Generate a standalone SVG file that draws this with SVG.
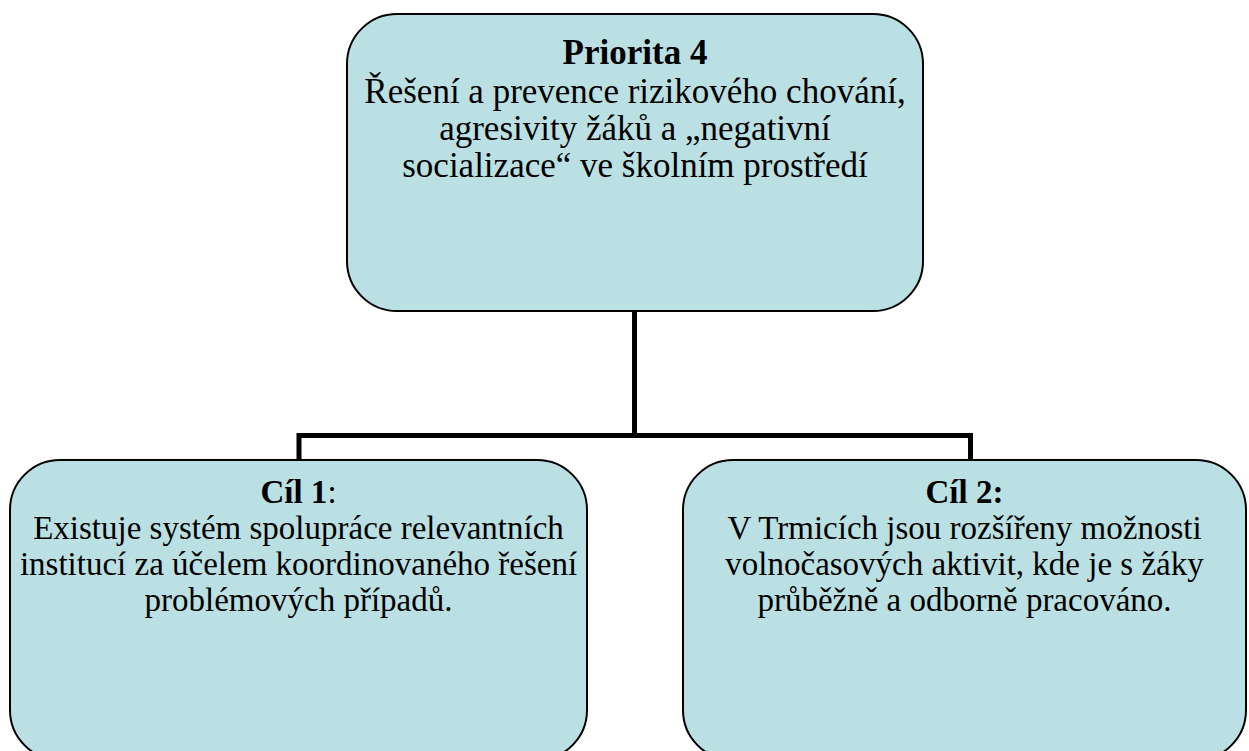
<svg xmlns="http://www.w3.org/2000/svg" width="1249" height="751" viewBox="0 0 1249 751">
  <style>
    .box { fill: #BBE0E3; stroke: #000; stroke-width: 2; }
    .txt { font-family: "Liberation Serif", "Times New Roman", serif; font-size: 33px; fill: #000; text-anchor: middle; }
    .big { font-size: 35px; }
    .b { font-weight: bold; }
    .link { fill: none; stroke: #000; stroke-width: 5; stroke-linejoin: miter; }
  </style>
  <rect width="1249" height="751" fill="#fff"/>

  <!-- tree connectors -->
  <g id="connectors">
    <path class="link" d="M634.5 311 V435.5 M299 461 V435.5 H970.5 V461"/>
  </g>

  <!-- priority -->
  <g id="priorita">
    <rect class="box" x="347" y="14" width="576" height="297" rx="50" ry="50"/>
    <text class="txt big b" x="635" y="64">Priorita 4</text>
    <text class="txt big" x="635" y="103">Řešení a prevence rizikového chování,</text>
    <text class="txt big" x="635" y="140">agresivity žáků a „negativní</text>
    <text class="txt big" x="635" y="177">socializace“ ve školním prostředí</text>
  </g>

  <!-- goal 1 -->
  <g id="cil1">
    <rect class="box" x="10" y="460" width="577" height="300" rx="50" ry="50"/>
    <text class="txt" x="298.5" y="503"><tspan class="b">Cíl 1</tspan>:</text>
    <text class="txt" x="298.5" y="539">Existuje systém spolupráce relevantních</text>
    <text class="txt" x="298.5" y="575">institucí za účelem koordinovaného řešení</text>
    <text class="txt" x="298.5" y="611">problémových případů.</text>
  </g>

  <!-- goal 2 -->
  <g id="cil2">
    <rect class="box" x="683" y="460" width="563" height="300" rx="50" ry="50"/>
    <text class="txt b" x="964.5" y="503">Cíl 2:</text>
    <text class="txt" x="964.5" y="539">V Trmicích jsou rozšířeny možnosti</text>
    <text class="txt" x="964.5" y="575">volnočasových aktivit, kde je s žáky</text>
    <text class="txt" x="964.5" y="611">průběžně a odborně pracováno.</text>
  </g>
</svg>
